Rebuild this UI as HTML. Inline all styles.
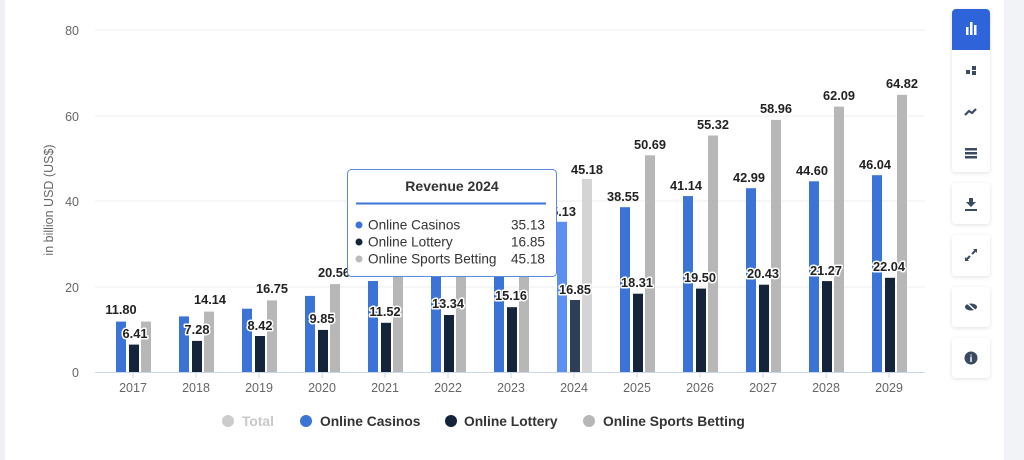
<!DOCTYPE html><html><head><style>body{margin:0;background:#fff}svg{display:block;font-family:"Liberation Sans",sans-serif}</style></head><body>
<svg width="1024" height="460" viewBox="0 0 1024 460" xmlns="http://www.w3.org/2000/svg">
<rect x="0" y="0" width="5" height="460" fill="#eef0f4"/>
<rect x="1004" y="0" width="20" height="460" fill="#f1f3f7"/>
<g stroke="#ececec" stroke-width="1">
<line x1="95" y1="30" x2="925" y2="30"/><line x1="95" y1="116" x2="925" y2="116"/><line x1="95" y1="201" x2="925" y2="201"/><line x1="95" y1="287" x2="925" y2="287"/></g>
<line x1="95" y1="372.5" x2="925" y2="372.5" stroke="#ccd6eb"/>
<g fill="#666" font-size="12.5" text-anchor="end"><text x="79" y="35">80</text><text x="79" y="121">60</text><text x="79" y="206">40</text><text x="79" y="292">20</text><text x="79" y="377">0</text></g>
<text transform="translate(53,200) rotate(-90)" text-anchor="middle" font-size="12.5" fill="#666">in billion USD (US$)</text>
<g stroke="#ccd6eb"><line x1="133" y1="372" x2="133" y2="378"/><line x1="196" y1="372" x2="196" y2="378"/><line x1="259" y1="372" x2="259" y2="378"/><line x1="322" y1="372" x2="322" y2="378"/><line x1="385" y1="372" x2="385" y2="378"/><line x1="448" y1="372" x2="448" y2="378"/><line x1="511" y1="372" x2="511" y2="378"/><line x1="574" y1="372" x2="574" y2="378"/><line x1="637" y1="372" x2="637" y2="378"/><line x1="700" y1="372" x2="700" y2="378"/><line x1="763" y1="372" x2="763" y2="378"/><line x1="826" y1="372" x2="826" y2="378"/><line x1="889" y1="372" x2="889" y2="378"/></g>
<g fill="#666" font-size="12.5" text-anchor="middle"><text x="133" y="392">2017</text><text x="196" y="392">2018</text><text x="259" y="392">2019</text><text x="322" y="392">2020</text><text x="385" y="392">2021</text><text x="448" y="392">2022</text><text x="511" y="392">2023</text><text x="574" y="392">2024</text><text x="637" y="392">2025</text><text x="700" y="392">2026</text><text x="763" y="392">2027</text><text x="826" y="392">2028</text><text x="889" y="392">2029</text></g>
<g fill="#3c73d6">
<rect x="116" y="321.6" width="10" height="50.4"/><rect x="179" y="316.4" width="10" height="55.6"/><rect x="242" y="308.7" width="10" height="63.3"/><rect x="305" y="295.9" width="10" height="76.1"/><rect x="368" y="281" width="10" height="91"/><rect x="431" y="269.4" width="10" height="102.6"/><rect x="494" y="252.3" width="10" height="119.7"/><rect x="557" y="221.8" width="10" height="150.2" fill="#5b8ff0"/><rect x="620" y="207.2" width="10" height="164.8"/><rect x="683" y="196.1" width="10" height="175.9"/><rect x="746" y="188.2" width="10" height="183.8"/><rect x="809" y="181.3" width="10" height="190.7"/><rect x="872" y="175.2" width="10" height="196.8"/></g>
<g fill="#14243b">
<rect x="129" y="344.6" width="10" height="27.4"/><rect x="192" y="340.9" width="10" height="31.1"/><rect x="255" y="336" width="10" height="36"/><rect x="318" y="329.9" width="10" height="42.1"/><rect x="381" y="322.8" width="10" height="49.2"/><rect x="444" y="315" width="10" height="57"/><rect x="507" y="307.2" width="10" height="64.8"/><rect x="570" y="300" width="10" height="72" fill="#2d3e56"/><rect x="633" y="293.7" width="10" height="78.3"/><rect x="696" y="288.6" width="10" height="83.4"/><rect x="759" y="284.7" width="10" height="87.3"/><rect x="822" y="281.1" width="10" height="90.9"/><rect x="885" y="277.8" width="10" height="94.2"/></g>
<g fill="#b7b7b7">
<rect x="141" y="321.6" width="10" height="50.4"/><rect x="204" y="311.6" width="10" height="60.4"/><rect x="267" y="300.4" width="10" height="71.6"/><rect x="330" y="284.1" width="10" height="87.9"/><rect x="393" y="274.5" width="10" height="97.5"/><rect x="456" y="267.3" width="10" height="104.7"/><rect x="519" y="258.7" width="10" height="113.3"/><rect x="582" y="178.9" width="10" height="193.1" fill="#d4d4d4"/><rect x="645" y="155.3" width="10" height="216.7"/><rect x="708" y="135.5" width="10" height="236.5"/><rect x="771" y="119.9" width="10" height="252.1"/><rect x="834" y="106.6" width="10" height="265.4"/><rect x="897" y="94.9" width="10" height="277.1"/></g>
<g font-size="12.8" font-weight="bold" fill="#222" text-anchor="middle">
<text x="121" y="314">11.80</text><text x="210" y="304">14.14</text><text x="272" y="293">16.75</text><text x="334" y="277">20.56</text><text x="560" y="216">35.13</text><text x="587" y="174">45.18</text>
<text x="623" y="201">38.55</text><text x="650" y="149">50.69</text><text x="686" y="190">41.14</text><text x="713" y="129">55.32</text><text x="749" y="182">42.99</text><text x="776" y="113">58.96</text><text x="812" y="175">44.60</text><text x="839" y="100">62.09</text><text x="875" y="169">46.04</text><text x="902" y="88">64.82</text></g>
<g font-size="12.8" font-weight="bold" fill="#222" text-anchor="middle" stroke="#fff" stroke-width="3" paint-order="stroke" stroke-linejoin="round">
<text x="135" y="338">6.41</text><text x="197" y="334">7.28</text><text x="260" y="330">8.42</text><text x="322" y="323">9.85</text><text x="385" y="316">11.52</text><text x="448" y="308">13.34</text><text x="511" y="300">15.16</text><text x="575" y="294">16.85</text><text x="637" y="287">18.31</text><text x="700" y="282">19.50</text><text x="763" y="278">20.43</text><text x="826" y="275">21.27</text><text x="889" y="271">22.04</text></g>
<rect x="347.5" y="169.5" width="209" height="107" rx="4" fill="#fff" stroke="#5b8ae0"/>
<text x="452" y="191" text-anchor="middle" font-size="14" font-weight="bold" fill="#333">Revenue 2024</text>
<line x1="356" y1="203.5" x2="546" y2="203.5" stroke="#3c73d6" stroke-width="2"/>
<g font-size="13.6" fill="#333"><circle cx="359" cy="225" r="3.5" fill="#3c73d6"/><text x="368" y="229.5">Online Casinos</text><text x="545" y="229.5" text-anchor="end">35.13</text>
<circle cx="359" cy="242" r="3.5" fill="#14243b"/><text x="368" y="246.5">Online Lottery</text><text x="545" y="246.5" text-anchor="end">16.85</text>
<circle cx="359" cy="259" r="3.5" fill="#bbb"/><text x="368" y="263.5">Online Sports Betting</text><text x="545" y="263.5" text-anchor="end">45.18</text></g>
<g font-size="13.8" font-weight="bold" fill="#333">
<circle cx="228" cy="421" r="6" fill="#ccc"/><text x="242" y="426" fill="#c8c8c8">Total</text>
<circle cx="306" cy="421" r="6" fill="#3c73d6"/><text x="320" y="426">Online Casinos</text>
<circle cx="451" cy="421" r="6" fill="#14243b"/><text x="464" y="426">Online Lottery</text>
<circle cx="589" cy="421" r="6" fill="#b7b7b7"/><text x="603" y="426">Online Sports Betting</text></g>
<defs><filter id="sh" x="-30%" y="-30%" width="160%" height="160%"><feDropShadow dx="0" dy="1" stdDeviation="2" flood-color="#000" flood-opacity="0.12"/></filter></defs>
<g fill="#fff" filter="url(#sh)"><rect x="952" y="9" width="38" height="163" rx="4"/><rect x="952" y="183" width="38" height="41" rx="4"/><rect x="952" y="235" width="38" height="41" rx="4"/><rect x="952" y="287" width="38" height="40" rx="4"/><rect x="952" y="338" width="38" height="40" rx="4"/></g>
<path d="M952 13a4 4 0 0 1 4-4h30a4 4 0 0 1 4 4v37h-38z" fill="#2f63d9"/>
<g fill="#fff"><rect x="966" y="27" width="2.5" height="8"/><rect x="970" y="22" width="2.5" height="13"/><rect x="974" y="25" width="2.5" height="10"/></g>
<g fill="#3b4a63"><rect x="966" y="70" width="4" height="4"/><rect x="972" y="66" width="4" height="4"/><rect x="972" y="71" width="4" height="4"/>
<path d="M965 115l4-4 3 2 4-4" stroke="#3b4a63" stroke-width="2.2" fill="none"/>
<rect x="965" y="148" width="12" height="2.5"/><rect x="965" y="152" width="12" height="2.5"/><rect x="965" y="156" width="12" height="2.5"/>
<path d="M969 198h4v4h3l-5 5-5-5h3z"/><rect x="965" y="209" width="12" height="2"/>
<path d="M966 260l4-4M976 250l-4 4" stroke="#3b4a63" stroke-width="2"/><path d="M965 261v-4l4 4z M977 249v4l-4-4z"/>
<ellipse cx="971" cy="307" rx="6" ry="3.5"/><line x1="966" y1="302" x2="977" y2="312" stroke="#fff" stroke-width="1.5"/>
<circle cx="971" cy="358" r="6.5"/></g>
<text x="971" y="362" text-anchor="middle" font-size="10" font-weight="bold" fill="#fff">i</text>
</svg></body></html>
